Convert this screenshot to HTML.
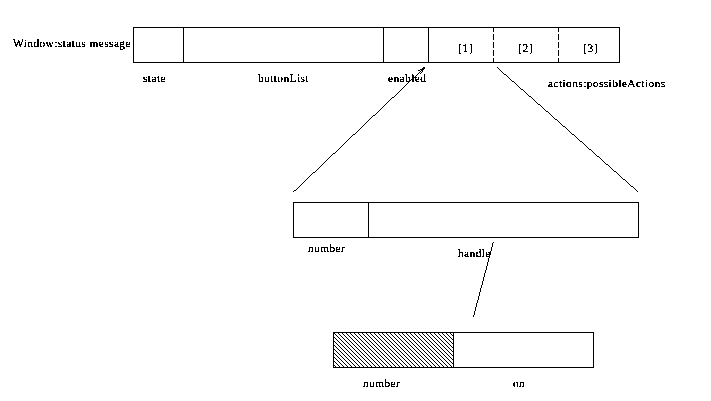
<!DOCTYPE html>
<html lang="en">
<head>
<meta charset="utf-8">
<title>Window status message</title>
<style>
html,body{margin:0;padding:0;background:#fff;}
body{width:711px;height:401px;overflow:hidden;position:relative;}
svg{position:absolute;left:0;top:0;display:block;}
text{font-family:"Liberation Serif","DejaVu Serif",serif;font-size:11.4px;letter-spacing:0.41px;fill:#000;}
.b{font-size:12.25px;letter-spacing:0.1px;}
.l{stroke:#000;stroke-width:1;fill:none;shape-rendering:crispEdges;}
.p{fill:#000;stroke:none;shape-rendering:crispEdges;}
</style>
</head>
<body>
<svg width="711" height="401" viewBox="0 0 711 401">
  <defs>
    <pattern id="hatch" x="0" y="0" width="4" height="4" patternUnits="userSpaceOnUse">
      <path class="p" d="M1 0h1v1h-1zM2 1h1v1h-1zM3 2h1v1h-1zM0 3h1v1h-1z"/>
    </pattern>
    <filter id="bw" x="-5%" y="-50%" width="110%" height="200%" color-interpolation-filters="sRGB">
      <feComponentTransfer>
        <feFuncA type="discrete" tableValues="0 0 1 1 1 1 1"/>
      </feComponentTransfer>
    </filter>
    <filter id="bwb" x="-5%" y="-50%" width="110%" height="200%" color-interpolation-filters="sRGB">
      <feComponentTransfer>
        <feFuncA type="discrete" tableValues="0 1 1"/>
      </feComponentTransfer>
    </filter>
  </defs>
  <rect width="711" height="401" fill="#fff"/>

  <!-- top record: state | buttonList | enabled | actions[1..3] -->
  <rect class="l" x="133.5" y="27.5" width="486" height="35"/>
  <path class="l" d="M183.5 27.5V62.5M383.5 27.5V62.5M428.5 27.5V62.5"/>
  <path class="l" stroke-dasharray="6 2" stroke-dashoffset="1" d="M493.5 27V63M558.5 27V63"/>

  <!-- connector: middle record (left corner) up to "enabled", with arrow head -->
  <path class="p" d="M293 191h1v1h-1zm1-1h2v1h-2zm2-1h1v1h-1zm1-1h1v1h-1zm1-1h1v1h-1zm1-1h1v1h-1zm1-1h1v1h-1zm1-1h1v1h-1zm1-1h1v1h-1zm1-1h1v1h-1zm1-1h1v1h-1zm1-1h1v1h-1zm1-1h1v1h-1zm1-1h1v1h-1zm1-1h1v1h-1zm1-1h1v1h-1zm1-1h1v1h-1zm1-1h1v1h-1zm1-1h1v1h-1zm1-1h2v1h-2zm2-1h1v1h-1zm1-1h1v1h-1zm1-1h1v1h-1zm1-1h1v1h-1zm1-1h1v1h-1zm1-1h1v1h-1zm1-1h1v1h-1zm1-1h1v1h-1zm1-1h1v1h-1zm1-1h1v1h-1zm1-1h1v1h-1zm1-1h1v1h-1zm1-1h1v1h-1zm1-1h1v1h-1zm1-1h1v1h-1zm1-1h1v1h-1zm1-1h1v1h-1zm1-1h1v1h-1zm1-1h2v1h-2zm2-1h1v1h-1zm1-1h1v1h-1zm1-1h1v1h-1zm1-1h1v1h-1zm1-1h1v1h-1zm1-1h1v1h-1zm1-1h1v1h-1zm1-1h1v1h-1zm1-1h1v1h-1zm1-1h1v1h-1zm1-1h1v1h-1zm1-1h1v1h-1zm1-1h1v1h-1zm1-1h1v1h-1zm1-1h1v1h-1zm1-1h1v1h-1zm1-1h1v1h-1zm1-1h1v1h-1zm1-1h2v1h-2zm2-1h1v1h-1zm1-1h1v1h-1zm1-1h1v1h-1zm1-1h1v1h-1zm1-1h1v1h-1zm1-1h1v1h-1zm1-1h1v1h-1zm1-1h1v1h-1zm1-1h1v1h-1zm1-1h1v1h-1zm1-1h1v1h-1zm1-1h1v1h-1zm1-1h1v1h-1zm1-1h1v1h-1zm1-1h1v1h-1zm1-1h1v1h-1zm1-1h1v1h-1zm1-1h1v1h-1zm1-1h2v1h-2zm2-1h1v1h-1zm1-1h1v1h-1zm1-1h1v1h-1zm1-1h1v1h-1zm1-1h1v1h-1zm1-1h1v1h-1zm1-1h1v1h-1zm1-1h1v1h-1zm1-1h1v1h-1zm1-1h1v1h-1zm1-1h1v1h-1zm1-1h1v1h-1zm1-1h1v1h-1zm1-1h1v1h-1zm1-1h1v1h-1zm1-1h1v1h-1zm1-1h1v1h-1zm1-1h2v1h-2zm2-1h1v1h-1zm1-1h1v1h-1zm1-1h1v1h-1zm1-1h1v1h-1zm1-1h1v1h-1zm1-1h1v1h-1zm1-1h1v1h-1zm1-1h1v1h-1zm1-1h1v1h-1zm1-1h1v1h-1zm1-1h1v1h-1zm1-1h1v1h-1zm1-1h1v1h-1zm1-1h1v1h-1zm1-1h1v1h-1zm1-1h1v1h-1zm1-1h1v1h-1zm1-1h1v1h-1zm1-1h2v1h-2zm2-1h1v1h-1zm1-1h1v1h-1zm1-1h1v1h-1zm1-1h1v1h-1zm1-1h1v1h-1zm1-1h1v1h-1zm1-1h1v1h-1zm1-1h1v1h-1zm1-1h1v1h-1zm1-1h1v1h-1zm1-1h1v1h-1z"/>
  <path class="p" d="M423 67h2v1h-2zm-1 1h3v1h-3zm-2 1h4v1h-4zm-2 1h2v1h-2zm3 0h2v1h-2zm-1 1h1v1h-1zm2 0h1v1h-1zm-1 1h1v1h-1zm-1 1h1v1h-1z"/>
  <!-- connector: actions[1] down to middle record (right corner) -->
  <path class="p" d="M497 67h1v1h-1zm1 1h1v1h-1zm1 1h1v1h-1zm1 1h1v1h-1zm1 1h1v1h-1zm1 1h1v1h-1zm1 1h1v1h-1zm1 1h2v1h-2zm2 1h1v1h-1zm1 1h1v1h-1zm1 1h1v1h-1zm1 1h1v1h-1zm1 1h1v1h-1zm1 1h1v1h-1zm1 1h2v1h-2zm2 1h1v1h-1zm1 1h1v1h-1zm1 1h1v1h-1zm1 1h1v1h-1zm1 1h1v1h-1zm1 1h1v1h-1zm1 1h1v1h-1zm1 1h2v1h-2zm2 1h1v1h-1zm1 1h1v1h-1zm1 1h1v1h-1zm1 1h1v1h-1zm1 1h1v1h-1zm1 1h1v1h-1zm1 1h2v1h-2zm2 1h1v1h-1zm1 1h1v1h-1zm1 1h1v1h-1zm1 1h1v1h-1zm1 1h1v1h-1zm1 1h1v1h-1zm1 1h1v1h-1zm1 1h2v1h-2zm2 1h1v1h-1zm1 1h1v1h-1zm1 1h1v1h-1zm1 1h1v1h-1zm1 1h1v1h-1zm1 1h1v1h-1zm1 1h2v1h-2zm2 1h1v1h-1zm1 1h1v1h-1zm1 1h1v1h-1zm1 1h1v1h-1zm1 1h1v1h-1zm1 1h1v1h-1zm1 1h1v1h-1zm1 1h2v1h-2zm2 1h1v1h-1zm1 1h1v1h-1zm1 1h1v1h-1zm1 1h1v1h-1zm1 1h1v1h-1zm1 1h1v1h-1zm1 1h2v1h-2zm2 1h1v1h-1zm1 1h1v1h-1zm1 1h1v1h-1zm1 1h1v1h-1zm1 1h1v1h-1zm1 1h1v1h-1zm1 1h1v1h-1zm1 1h2v1h-2zm2 1h1v1h-1zm1 1h1v1h-1zm1 1h1v1h-1zm1 1h1v1h-1zm1 1h1v1h-1zm1 1h1v1h-1zm1 1h2v1h-2zm2 1h1v1h-1zm1 1h1v1h-1zm1 1h1v1h-1zm1 1h1v1h-1zm1 1h1v1h-1zm1 1h1v1h-1zm1 1h1v1h-1zm1 1h2v1h-2zm2 1h1v1h-1zm1 1h1v1h-1zm1 1h1v1h-1zm1 1h1v1h-1zm1 1h1v1h-1zm1 1h1v1h-1zm1 1h2v1h-2zm2 1h1v1h-1zm1 1h1v1h-1zm1 1h1v1h-1zm1 1h1v1h-1zm1 1h1v1h-1zm1 1h1v1h-1zm1 1h1v1h-1zm1 1h2v1h-2zm2 1h1v1h-1zm1 1h1v1h-1zm1 1h1v1h-1zm1 1h1v1h-1zm1 1h1v1h-1zm1 1h1v1h-1zm1 1h2v1h-2zm2 1h1v1h-1zm1 1h1v1h-1zm1 1h1v1h-1zm1 1h1v1h-1zm1 1h1v1h-1zm1 1h1v1h-1zm1 1h1v1h-1zm1 1h2v1h-2zm2 1h1v1h-1zm1 1h1v1h-1zm1 1h1v1h-1zm1 1h1v1h-1zm1 1h1v1h-1zm1 1h1v1h-1zm1 1h2v1h-2zm2 1h1v1h-1zm1 1h1v1h-1zm1 1h1v1h-1zm1 1h1v1h-1zm1 1h1v1h-1z"/>
  <!-- connector: handle down to bottom record -->
  <path class="p" d="M493 242h1v1h-1zm-1 1h1v4h-1zm-1 4h1v4h-1zm-1 4h1v4h-1zm-1 4h1v3h-1zm-1 3h1v4h-1zm-1 4h1v4h-1zm-1 4h1v4h-1zm-1 4h1v3h-1zm-1 3h1v4h-1zm-1 4h1v4h-1zm-1 4h1v4h-1zm-1 4h1v3h-1zm-1 3h1v4h-1zm-1 4h1v4h-1zm-1 4h1v4h-1zm-1 4h1v3h-1zm-1 3h1v4h-1zm-1 4h1v4h-1zm-1 4h1v4h-1zm-1 4h1v2h-1z"/>

  <!-- middle record: number | handle -->
  <rect class="l" x="293.5" y="202.5" width="345" height="35"/>
  <path class="l" d="M368.5 202.5V237.5"/>

  <!-- bottom record: number (hatched) | on -->
  <rect x="334" y="333" width="119" height="34" fill="url(#hatch)"/>
  <rect class="l" x="333.5" y="332.5" width="260" height="35"/>
  <path class="l" d="M453.5 332.5V367.5"/>

  <!-- labels -->
  <g filter="url(#bw)">
  <text transform="translate(13 47) skewX(0.05)">Window:status message</text>
  <text transform="translate(143 82) skewX(0.05)">state</text>
  <text transform="translate(258 82) skewX(0.05)">buttonList</text>
  <text transform="translate(388 82) skewX(0.05)">enabled</text>
  <text transform="translate(548 87) skewX(0.05)">actions:possibleActions</text>
  <text transform="translate(308 252) skewX(0.05)">number</text>
  <text transform="translate(458 257) skewX(0.05)">handle</text>
  <text transform="translate(363 387) skewX(0.05)">number</text>
  <text transform="translate(513 387) skewX(0.05)">on</text>
  </g>
  <g filter="url(#bwb)">
  <text class="b" transform="translate(458 52) scale(1 0.95) skewX(0.05)">[1]</text>
  <text class="b" transform="translate(518 52) scale(1 0.95) skewX(0.05)">[2]</text>
  <text class="b" transform="translate(583 52) scale(1 0.95) skewX(0.05)">[3]</text>
  </g>
</svg>
</body>
</html>
